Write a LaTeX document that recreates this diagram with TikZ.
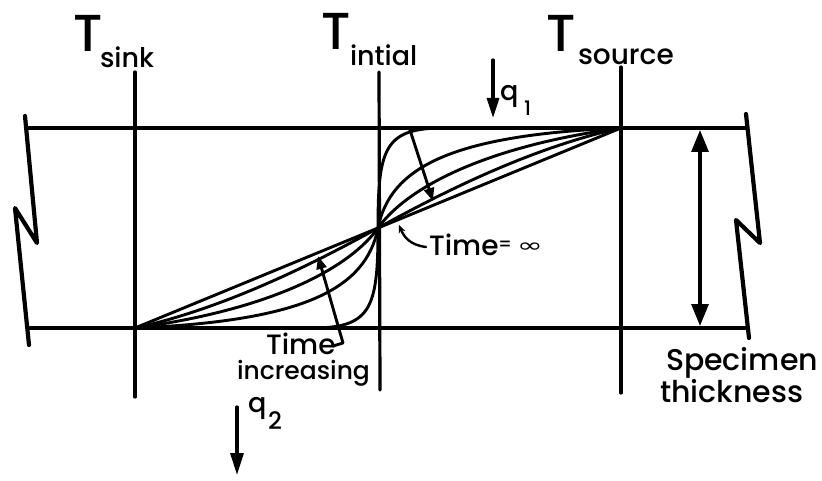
\documentclass[tikz,border=0pt]{standalone}
\usepackage{fontspec}
\setmainfont{Poppins Medium}
\newfontfamily\symfont{DejaVu Sans}
\usetikzlibrary{arrows.meta}
\begin{document}
\begin{tikzpicture}[x=1pt,y=-1pt, line cap=round, line join=round,
  heavy/.style={line width=4.2pt},
  rule/.style={line width=3.2pt},
  curve/.style={line width=2.9pt},
  lbl/.style={inner sep=0pt, outer sep=0pt, anchor=base west},
  bigT/.style={lbl, font=\fontsize{52}{52}\selectfont},
  sub/.style={lbl, font=\fontsize{27}{27}\selectfont},
  txt/.style={lbl, font=\fontsize{28}{28}\selectfont},
  tip/.style={-{Triangle[length=13pt,width=10pt]}},
]
\useasboundingbox (0,0) rectangle (822,481);
% specimen faces
\coordinate (TL) at (27,128); \coordinate (TR) at (747,128);
\coordinate (BL) at (28,328); \coordinate (BR) at (748,328);
\draw[heavy] (TL) -- (TR);
\draw[heavy] (BL) -- (BR);
% break lines
\draw[heavy] (25,116) -- (37,243) -- (15,208) -- (29,345);
\draw[heavy] (746,114) -- (760,243) -- (736,220) -- (749,338);
% temperature rules
\coordinate (S1) at (135,72);  \coordinate (S2) at (135,397);
\coordinate (I1) at (379,72);  \coordinate (I2) at (380,390);
\coordinate (O1) at (621,67);  \coordinate (O2) at (621,393);
\draw[rule] (S1) -- (S2);
\draw[rule] (I1) -- (I2);
\draw[rule] (O1) -- (O2);
% labels
\node[bigT] (Ts) at (73,52) {T};
\node[sub] (sink) at (100,68) {sink};
\node[bigT] (Ti) at (321,50) {T};
\node[sub] (init) at (350,66) {intial};
\node[bigT] (To) at (546,52) {T};
\node[sub, font=\fontsize{28}{28}\selectfont] (src) at (578,65) {source};
% profiles
\coordinate (M) at (378,228);
\coordinate (B) at (621,128);
\coordinate (A) at (135,328);
\draw[curve] (M) -- (B);
\draw[curve] (M) .. controls (420,205) and (520,150) .. (B);
\draw[curve] (M) .. controls (405,190) and (480,147) .. (B);
\draw[curve] (M) .. controls (390,168) and (450,135) .. (B);
\draw[curve] (M) .. controls (378,150) and (384,129) .. (440,128) -- (B);
\draw[curve] (M) -- (A);
\draw[curve] (M) .. controls (336,251) and (236,306) .. (A);
\draw[curve] (M) .. controls (351,266) and (276,309) .. (A);
\draw[curve] (M) .. controls (366,288) and (306,321) .. (A);
\draw[curve] (M) .. controls (378,306) and (372,327) .. (316,328) -- (A);
% time arrows
\coordinate (u1) at (410,130); \coordinate (u2) at (433,201);
\draw[curve, tip] (u1) -- (u2);
\node[txt] (tinf) at (429,255) {Time};
\node[lbl, font=\fontsize{18}{18}\selectfont] (eq) at (498,251) {=};
\node[lbl, font=\symfont\fontsize{22}{22}\selectfont] (inf) at (517,253) {\scalebox{1.4}[0.9]{∞}};
\coordinate (lt) at (399,225);
\draw[line width=2.4pt, -{Stealth[length=8pt,width=7pt]}] (426,247) .. controls (410,245) and (404,237) .. (lt);
\node[txt] (tinc) at (266,354) {Time};
\node[lbl, font=\fontsize{25}{25}\selectfont] (incr) at (237,379) {increasing};
\coordinate (l1) at (333,346); \coordinate (l2) at (343,343); \coordinate (l3) at (318,256);
\draw[curve, tip] (l1) -- (l2) -- (l3);
% heat flows
\coordinate (q1a) at (493,60); \coordinate (q1b) at (493,118);
\draw[rule, -{Triangle[length=20pt,width=12pt]}] (q1a) -- (q1b);
\node[sub] (q1) at (500,101) {q};
\node[lbl, font=\fontsize{20}{20}\selectfont] (q1s) at (524,116) {1};
\coordinate (q2a) at (237,407); \coordinate (q2b) at (237,475);
\draw[rule, -{Triangle[length=22pt,width=13pt]}] (q2a) -- (q2b);
\node[sub] (q2) at (248,412) {q};
\node[lbl, font=\fontsize{24}{24}\selectfont] (q2s) at (268,429) {2};
% thickness
\coordinate (d1) at (700,130); \coordinate (d2) at (700,326);
\draw[rule, {Triangle[length=22pt,width=17pt]}-{Triangle[length=22pt,width=17pt]}] (d1) -- (d2);
\node[lbl, font=\fontsize{30}{30}\selectfont] (spec) at (666,370) {Specimen};
\node[lbl, font=\fontsize{30}{30}\selectfont] (thick) at (660,402) {thickness};
\end{tikzpicture}
\end{document}
